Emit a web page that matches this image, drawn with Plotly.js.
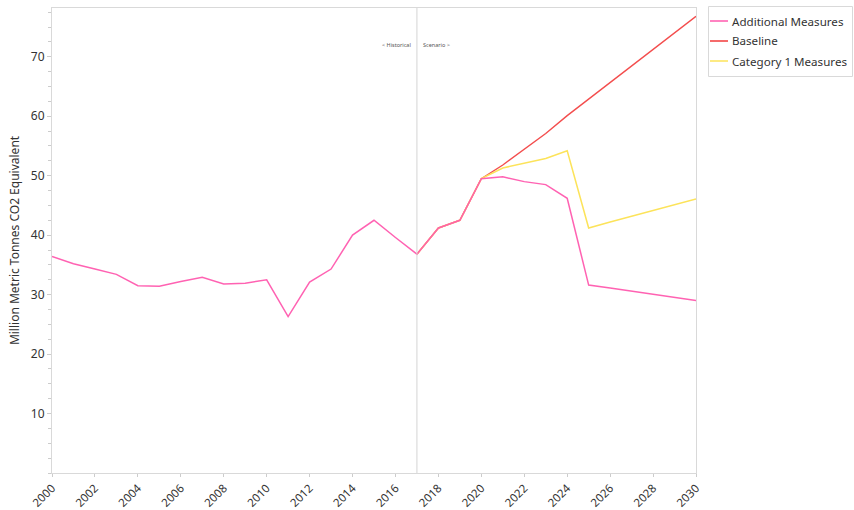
<!DOCTYPE html>
<html><head><meta charset="utf-8">
<script src="https://cdn.plot.ly/plotly-3.0.1.min.js"></script>
<style>body{margin:0;background:#fff}#c{width:854px;height:510px}</style>
</head><body><div id="c"></div>
<script>
var histYears = [2000,2001,2002,2003,2004,2005,2006,2007,2008,2009,2010,2011,2012,2013,2014,2015,2016,2017,2018,2019,2020];
var histValues = [36.4,35.2,34.3,33.4,31.5,31.4,32.2,32.9,31.8,31.9,32.5,26.3,32.1,34.3,40.0,42.5,39.6,36.8,41.2,42.5,49.5];
var scenYears = [2020,2021,2022,2023,2024,2025,2026,2027,2028,2029,2030];
var additional = [49.5,49.8,49.0,48.5,46.2,31.6,31.1,30.6,30.1,29.6,29.0];
var baseline = [49.5,51.8,54.4,57.1,60.1,62.9,65.6,68.4,71.2,74.0,76.8];
var category1 = [49.5,51.3,52.1,52.9,54.2,41.2,42.2,43.2,44.2,45.1,46.1];
var xTicks = [2000,2002,2004,2006,2008,2010,2012,2014,2016,2018,2020,2022,2024,2026,2028,2030];
var yTicks = [10,20,30,40,50,60,70];
var dividerYear = 2017;
var legendNames = ['Additional Measures','Baseline','Category 1 Measures'];

var pink = '#FF5AAE', red = '#F23A3A', yellow = '#FCE35A';
var legendColors = [pink, red, yellow];
var baseX = histYears.slice(17).concat(scenYears.slice(1));
var baseY = histValues.slice(17).concat(baseline.slice(1));
var catY = histValues.slice(17).concat(category1.slice(1));
var addX = histYears.concat(scenYears.slice(1));
var addY = histValues.concat(additional.slice(1));

var traces = [
  {x: baseX, y: baseY, name: legendNames[1], mode: 'lines', line: {color: red, width: 1.4}, opacity: 0.9},
  {x: baseX, y: catY, name: legendNames[2], mode: 'lines', line: {color: yellow, width: 1.5}},
  {x: addX, y: addY, name: legendNames[0], mode: 'lines', line: {color: pink, width: 1.5}, opacity: 0.95}
];

// plot-area geometry (pixels) used to place the custom legend
var L = 52, T = 8, W = 644, H = 465;
function px(p){ return (p - L) / W; }
function py(p){ return (T + H - p) / H; }

var shapes = [{type: 'line', xref: 'x', yref: 'paper', x0: dividerYear, x1: dividerYear, y0: 0, y1: 1,
               line: {color: '#d4d4d4', width: 1}},
              {type: 'rect', xref: 'paper', yref: 'paper', x0: px(708.5), x1: px(852.5), y0: py(6.5), y1: py(76.5),
               line: {color: '#d9d9d9', width: 1}, fillcolor: 'rgba(0,0,0,0)'}];
var annotations = [
  {xref: 'x', yref: 'paper', x: dividerYear, y: py(45), yanchor: 'middle', xanchor: 'right', xshift: -4, text: '&lt; Historical', showarrow: false, font: {size: 5.5, color: '#555'}},
  {xref: 'x', yref: 'paper', x: dividerYear, y: py(45), yanchor: 'middle', xanchor: 'left', xshift: 4, text: 'Scenario &gt;', showarrow: false, font: {size: 5.5, color: '#555'}}
];
legendNames.forEach(function(n, i){
  var yy = 21 + 20 * i;
  shapes.push({type: 'line', xref: 'paper', yref: 'paper', x0: px(710), x1: px(728), y0: py(yy), y1: py(yy),
               line: {color: legendColors[i], width: 1.5}});
  annotations.push({xref: 'paper', yref: 'paper', x: px(730), y: py(yy), xanchor: 'left', yanchor: 'middle',
               text: n, showarrow: false, font: {size: 11.6, color: '#333'}});
});

var layout = {
  width: 854, height: 510,
  margin: {l: L, r: 854 - L - W, t: T, b: 510 - T - H, autoexpand: false},
  paper_bgcolor: '#fff', plot_bgcolor: '#fff',
  font: {family: 'Noto Sans, Open Sans, sans-serif', size: 12, color: '#333'},
  showlegend: false,
  xaxis: {range: [2000, 2030], tickvals: xTicks, ticktext: xTicks.map(String), tickangle: -45,
          ticks: 'outside', ticklen: 3, tickcolor: '#ccc', showgrid: false, zeroline: false,
          showline: true, linecolor: '#d9d9d9', linewidth: 1, mirror: true, automargin: false,
          tickfont: {size: 11.5, color: '#333'}},
  yaxis: {range: [0, 78.2], tickvals: yTicks, ticktext: yTicks.map(String),
          ticks: 'outside', ticklen: 4, tickcolor: '#ccc', showgrid: false, zeroline: false,
          showline: true, linecolor: '#d9d9d9', linewidth: 1, mirror: true, automargin: false,
          minor: {dtick: 2.5, tick0: 0, ticks: 'outside', ticklen: 3, tickcolor: '#ccc', showgrid: false},
          title: {text: 'Million Metric Tonnes CO2 Equivalent', font: {size: 12, color: '#333'}, standoff: 8},
          tickfont: {size: 12, color: '#333'}},
  shapes: shapes,
  annotations: annotations
};
Plotly.newPlot('c', traces, layout, {displayModeBar: false, staticPlot: true});
</script></body></html>
